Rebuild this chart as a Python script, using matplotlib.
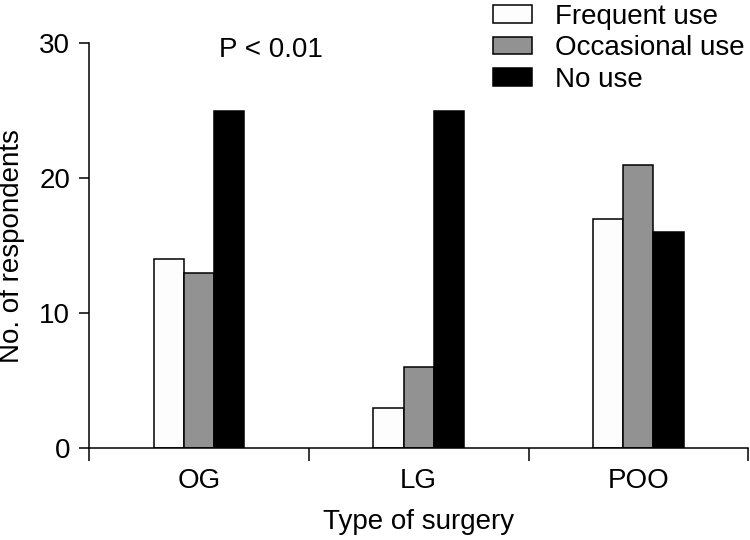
import numpy as np
import matplotlib.pyplot as plt

plt.rcParams['font.family'] = ['Liberation Sans', 'DejaVu Sans']

groups = ['OG', 'LG', 'POO']
series = ['Frequent use', 'Occasional use', 'No use']
frequent = [14, 3, 17]
occasional = [13, 6, 21]
no_use = [25, 25, 16]
colors = ['#fdfdfd', '#929292', '#000000']

fs = 20

fig = plt.figure(figsize=(7.5, 5.4), dpi=100)
ax = fig.add_axes([0.1187, 0.170, 0.879, 0.750])

x = np.arange(len(groups))
w = 0.137
for i, (vals, c, lab) in enumerate(zip([frequent, occasional, no_use], colors, series)):
    ax.bar(x + (i - 1) * w, vals, width=w, color=c, edgecolor='black',
           linewidth=1.1, label=lab)

ax.set_xlim(-0.5, 2.5)
ax.set_ylim(0, 30)
ax.set_yticks([0, 10, 20, 30])
ax.set_xticks(x)
ax.set_xticklabels(groups)
ax.set_xticks([-0.5, 0.5, 1.5, 2.5], minor=True)
ax.tick_params(axis='x', which='major', length=0, pad=14, labelsize=fs)
ax.tick_params(axis='x', which='minor', length=9, width=1.1, direction='out')
ax.tick_params(axis='y', length=7.5, width=1.1, direction='out', labelsize=fs, pad=6)

for s in ['top', 'right']:
    ax.spines[s].set_visible(False)
for s in ['left', 'bottom']:
    ax.spines[s].set_linewidth(1.1)

ax.set_ylabel('No. of respondents', fontsize=fs, labelpad=10)
ax.set_xlabel('Type of surgery', fontsize=fs, labelpad=11)

ax.text(0.33, 29.5, 'P < 0.01', fontsize=fs, ha='center', va='center')

fig.legend(loc='upper left', bbox_to_anchor=(0.657, 0.993), frameon=False,
           fontsize=fs, handlelength=1.4, handleheight=0.61,
           handletextpad=0.83, labelspacing=0.2, borderpad=0, borderaxespad=0)

fig.savefig('out.png', dpi=100)
